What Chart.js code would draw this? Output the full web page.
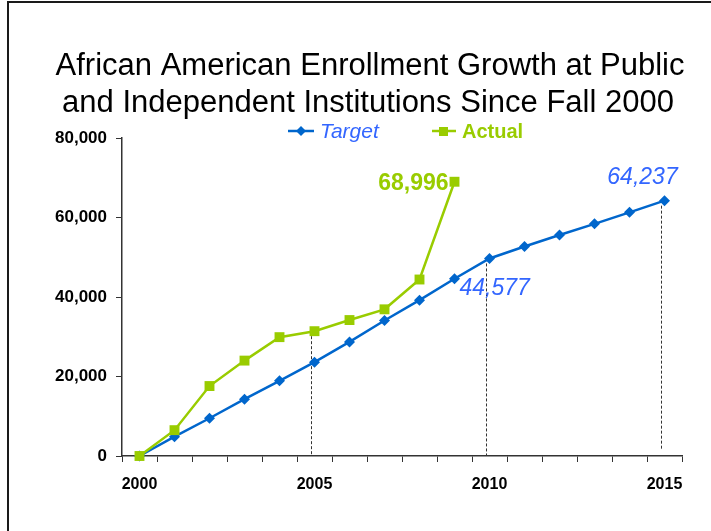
<!DOCTYPE html>
<html>
<head>
<meta charset="utf-8">
<title>African American Enrollment Growth</title>
<script src="https://cdn.jsdelivr.net/npm/chart.js@4/dist/chart.umd.min.js"></script>
<style>
  html, body { margin: 0; padding: 0; background: #ffffff; }
  #wrap { width: 711px; height: 531px; }
</style>
</head>
<body>
<div id="wrap"><canvas id="chart" width="711" height="531"></canvas></div>
<script>
// Fall enrollment of African American students, 2000 through 2015
const years = ['2000', '2001', '2002', '2003', '2004', '2005', '2006', '2007',
               '2008', '2009', '2010', '2011', '2012', '2013', '2014', '2015'];
const targetEnrollment = [0, 4860, 9500, 14300, 18900, 23600, 28700, 34100,
                          39200, 44577, 49700, 52700, 55600, 58400, 61300, 64237];
const actualEnrollment = [0, 6500, 17600, 24000, 29900, 31400, 34200, 36900,
                          44400, 68996];
const labeledYears = ['2000', '2005', '2010', '2015'];
const yTickValues = [0, 20000, 40000, 60000, 80000];
const titleLines = ['African American Enrollment Growth at Public',
                    'and Independent Institutions Since Fall 2000'];

// Callouts: [series, year]
const callouts = [
  ['actual', '2009'],
  ['target', '2009'],
  ['target', '2015']
];
// Drop lines from a point down to the x axis: [series, year]
const dropLines = [
  ['actual', '2005'],
  ['target', '2010'],
  ['target', '2015']
];

const TARGET_LINE = '#0066CC';
const TARGET_TEXT = '#3366FF';
const ACTUAL_COLOR = '#99CC00';
const FONT = '"Liberation Sans", Arial, Helvetica, sans-serif';

const fmt = v => v.toLocaleString('en-US');

function seriesValue(series, year) {
  const i = years.indexOf(year);
  return series === 'actual' ? actualEnrollment[i] : targetEnrollment[i];
}

const decorations = {
  id: 'decorations',
  beforeDatasetsDraw(chart) {
    const ctx = chart.ctx;
    const x = chart.scales.x, y = chart.scales.y;
    ctx.save();
    ctx.strokeStyle = '#333333';
    ctx.lineWidth = 1;
    ctx.setLineDash([3, 2]);
    dropLines.forEach(([s, yr]) => {
      const px = Math.round(x.getPixelForValue(years.indexOf(yr))) - 3.5;
      const py = y.getPixelForValue(seriesValue(s, yr));
      ctx.beginPath();
      ctx.moveTo(px, py + 5);
      ctx.lineTo(px, y.getPixelForValue(0) - (yr === '2015' ? 6 : 0));
      ctx.stroke();
    });
    ctx.restore();
  },
  afterDatasetsDraw(chart) {
    const ctx = chart.ctx;
    const x = chart.scales.x, y = chart.scales.y;
    ctx.save();
    // frame
    ctx.strokeStyle = '#1a1a1a';
    ctx.lineWidth = 2;
    ctx.strokeRect(8, 2, 720, 540);

    // title
    ctx.fillStyle = '#000000';
    ctx.font = '31px ' + FONT;
    ctx.textAlign = 'center';
    ctx.textBaseline = 'alphabetic';
    ctx.fillText(titleLines[0], 370, 75);
    ctx.fillText(titleLines[1], 368, 112);

    // legend
    const ly = 131;
    ctx.lineWidth = 2.5;
    ctx.strokeStyle = TARGET_LINE;
    ctx.beginPath(); ctx.moveTo(288, ly); ctx.lineTo(314, ly); ctx.stroke();
    ctx.fillStyle = TARGET_LINE;
    ctx.beginPath();
    ctx.moveTo(301, ly - 5); ctx.lineTo(306, ly); ctx.lineTo(301, ly + 5); ctx.lineTo(296, ly);
    ctx.closePath(); ctx.fill();
    ctx.fillStyle = TARGET_TEXT;
    ctx.font = 'italic 21px ' + FONT;
    ctx.textAlign = 'left';
    ctx.textBaseline = 'middle';
    ctx.fillText('Target', 320, ly + 1);

    ctx.strokeStyle = ACTUAL_COLOR;
    ctx.beginPath(); ctx.moveTo(432, ly); ctx.lineTo(456, ly); ctx.stroke();
    ctx.fillStyle = ACTUAL_COLOR;
    ctx.fillRect(439, ly - 4, 9, 9);
    ctx.font = 'bold 20px ' + FONT;
    ctx.fillText('Actual', 462, ly + 1);

    // value callouts
    callouts.forEach(([s, yr]) => {
      const v = seriesValue(s, yr);
      const px = x.getPixelForValue(years.indexOf(yr));
      const py = y.getPixelForValue(v);
      ctx.textBaseline = 'alphabetic';
      if (s === 'actual') {
        ctx.font = 'bold 23px ' + FONT;
        ctx.fillStyle = ACTUAL_COLOR;
        ctx.textAlign = 'right';
        ctx.fillText(fmt(v), px - 6, py + 8);
      } else if (yr === '2015') {
        ctx.font = 'italic 23px ' + FONT;
        ctx.fillStyle = TARGET_TEXT;
        ctx.textAlign = 'center';
        ctx.fillText(fmt(v), px - 22, py - 17);
      } else {
        ctx.font = 'italic 23px ' + FONT;
        ctx.fillStyle = TARGET_TEXT;
        ctx.textAlign = 'left';
        ctx.fillText(fmt(v), px + 5, py + 16);
      }
    });
    ctx.restore();
  }
};

new Chart(document.getElementById('chart'), {
  type: 'line',
  data: {
    labels: years,
    datasets: [
      {
        label: 'Actual',
        data: actualEnrollment,
        borderColor: ACTUAL_COLOR,
        backgroundColor: ACTUAL_COLOR,
        borderWidth: 2.5,
        pointStyle: 'rect',
        pointRadius: 7,
        pointHoverRadius: 7,
        pointBorderWidth: 0,
        tension: 0,
        clip: false
      },
      {
        label: 'Target',
        data: targetEnrollment,
        borderColor: TARGET_LINE,
        backgroundColor: TARGET_LINE,
        borderWidth: 2.5,
        pointStyle: 'rectRot',
        pointRadius: 5.5,
        pointHoverRadius: 5.5,
        pointBorderWidth: 0,
        tension: 0,
        clip: false
      }
    ]
  },
  options: {
    responsive: false,
    animation: false,
    events: [],
    layout: { padding: { top: 138, right: 29, bottom: 35, left: 0 } },
    plugins: {
      legend: { display: false },
      title: { display: false },
      tooltip: { enabled: false }
    },
    scales: {
      x: {
        type: 'category',
        offset: true,
        afterFit(scale) { scale.height = 40; },
        grid: {
          offset: true,
          drawOnChartArea: false,
          drawTicks: true,
          tickLength: 6,
          tickColor: '#333333',
          lineWidth: 1
        },
        border: { display: true, color: '#333333', width: 1.5 },
        ticks: {
          autoSkip: false,
          maxRotation: 0,
          padding: 13,
          color: '#000000',
          font: { family: FONT, size: 16, weight: 'bold' },
          callback(value) {
            const lab = this.getLabelForValue(value);
            return labeledYears.includes(lab) ? lab : '';
          }
        }
      },
      y: {
        min: 0,
        max: 80000,
        afterFit(scale) { scale.width = 122; },
        afterBuildTicks(scale) { scale.ticks = yTickValues.map(v => ({ value: v })); },
        grid: {
          drawOnChartArea: false,
          drawTicks: true,
          tickLength: 6,
          tickColor: '#333333'
        },
        border: { display: true, color: '#333333', width: 1.5 },
        ticks: {
          padding: 9,
          color: '#000000',
          font: { family: FONT, size: 17, weight: 'bold' },
          callback: v => fmt(v)
        }
      }
    }
  },
  plugins: [decorations]
});
</script>
</body>
</html>
